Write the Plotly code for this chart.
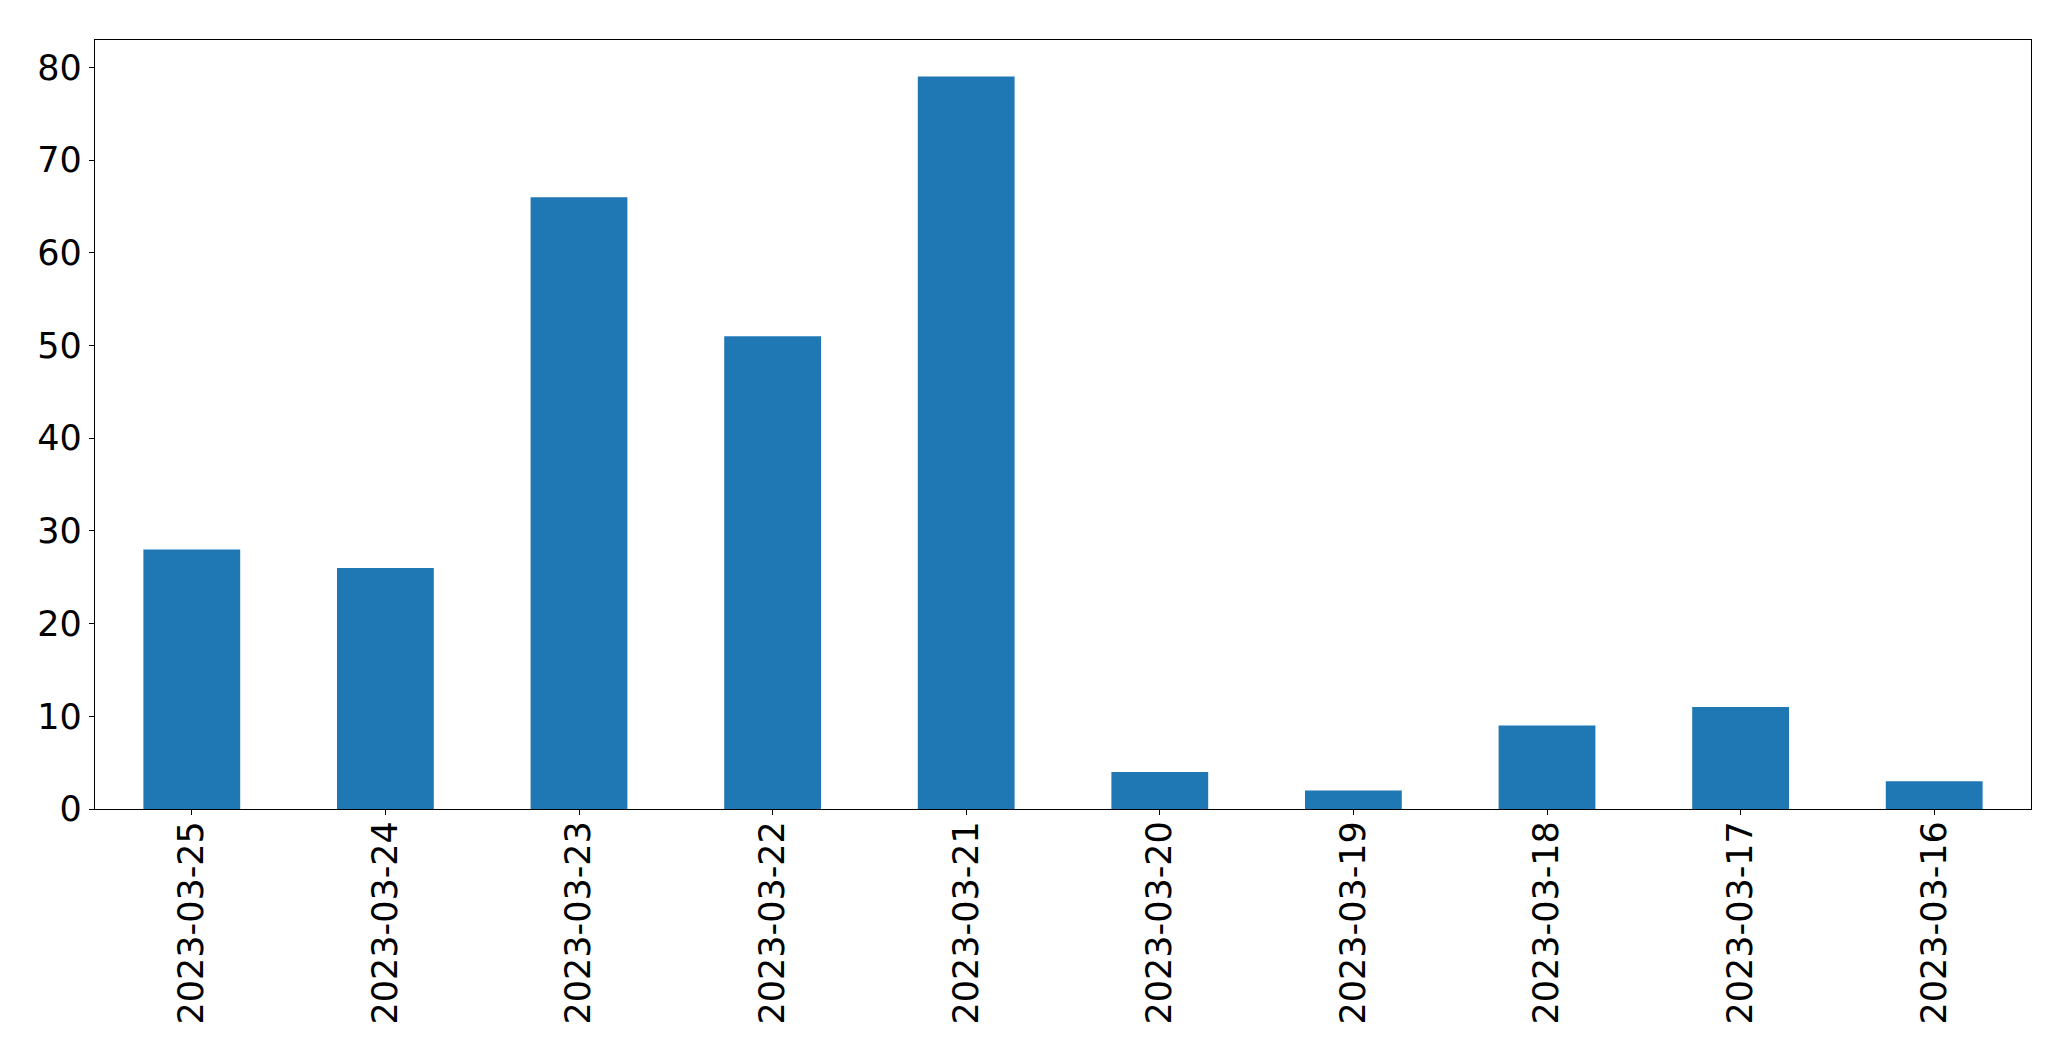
import plotly.graph_objects as go

dates = ["2023-03-25", "2023-03-24", "2023-03-23", "2023-03-22", "2023-03-21",
         "2023-03-20", "2023-03-19", "2023-03-18", "2023-03-17", "2023-03-16"]
counts = [28, 26, 66, 51, 79, 4, 2, 9, 11, 3]
y_ticks = [0, 10, 20, 30, 40, 50, 60, 70, 80]

fig = go.Figure(go.Bar(x=dates, y=counts, marker=dict(color="#1f77b4", line=dict(width=0)), width=0.5))

# page body adds an 8px offset; compensate so the plot area lands where the reference has it
fig.update_layout(
    width=2063, height=1053,
    margin=dict(l=86.5, r=39.7, t=31.5, b=252, pad=0),
    paper_bgcolor="white", plot_bgcolor="white",
    font=dict(family="DejaVu Sans", size=35, color="black"),
    showlegend=False,
)
fig.update_xaxes(
    type="category", range=[-0.5, 9.5], tickangle=-90, automargin=False,
    ticks="outside", ticklen=5, tickwidth=1.3, tickcolor="black",
    showline=True, linecolor="black", linewidth=1.3, mirror=True,
    showgrid=False, zeroline=False, ticklabelstandoff=-8,
)
fig.update_yaxes(
    range=[0, 82.95], tickvals=y_ticks, automargin=False,
    ticks="outside", ticklen=5, tickwidth=1.3, tickcolor="black",
    showline=True, linecolor="black", linewidth=1.3, mirror=True,
    showgrid=False, zeroline=False, ticklabelstandoff=0,
)
fig.write_html("out.html")
